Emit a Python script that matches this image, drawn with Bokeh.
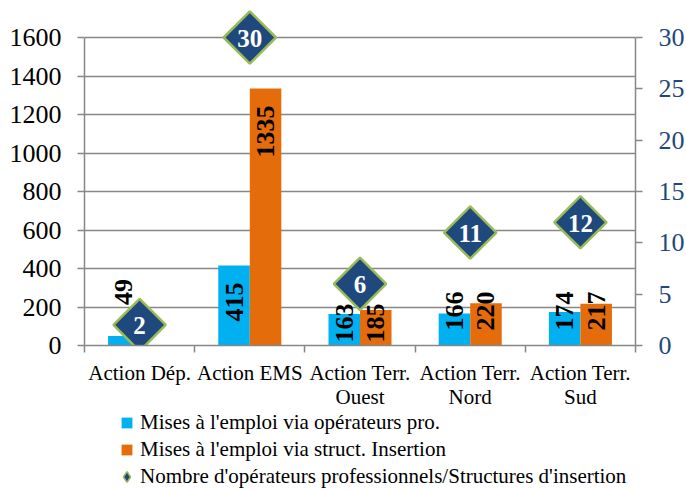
import math
from bokeh.plotting import figure
from bokeh.layouts import column
from bokeh.models import Range1d, LinearAxis, FixedTicker, ColumnDataSource, Legend, LegendItem
from bokeh.embed import file_html
from bokeh.resources import INLINE
from bokeh.core.properties import value

# ---------------- data ----------------
categories = ["Action Dép.", "Action EMS", "Action Terr.\nOuest", "Action Terr.\nNord", "Action Terr.\nSud"]
mises_operateurs = [49, 415, 163, 166, 174]
mises_insertion = [0, 1335, 185, 220, 217]
nombre_structures = [2, 30, 6, 11, 12]
left_ticks = [0, 200, 400, 600, 800, 1000, 1200, 1400, 1600]
right_ticks = [0, 5, 10, 15, 20, 25, 30]
series_names = [
    "Mises à l'emploi via opérateurs pro.",
    "Mises à l'emploi via struct. Insertion",
    "Nombre d'opérateurs professionnels/Structures d'insertion",
]

# ---------------- style ----------------
BLUE = "#00B0F0"
ORANGE = "#E46C0A"
NAVY = "#1F497D"
GREEN = "#9BBB59"
GRAY = "#878787"
FONT = "Times New Roman"

W, H_TOTAL = 686, 490
FRAME_W, FRAME_H = 551, 337
B_LEFT, B_RIGHT, B_TOP, B_BOTTOM = 84, 51, 8, 13
H_MAIN = FRAME_H + B_TOP + B_BOTTOM
H_STRIP = H_TOTAL - H_MAIN
axis_px = 308                           # pixels from 0 to the top tick
left_max, right_max = left_ticks[-1], right_ticks[-1]
y_end = left_max * FRAME_H / axis_px
y2_end = right_max * FRAME_H / axis_px
px_left = axis_px / left_max
px_right = axis_px / right_max

n = len(categories)
centers = [i + 0.5 for i in range(n)]
bar_w = 0.286
x_blue = [c - bar_w / 2 for c in centers]
x_orange = [c + bar_w / 2 for c in centers]
xr = Range1d(0, n)

p = figure(width=W, height=H_MAIN, frame_width=FRAME_W, frame_height=FRAME_H,
           x_range=xr, y_range=Range1d(0, y_end), title=None,
           output_backend="svg", toolbar_location=None,
           min_border_left=B_LEFT, min_border_right=B_RIGHT,
           min_border_top=B_TOP, min_border_bottom=B_BOTTOM)
p.outline_line_color = None
p.background_fill_color = "white"
p.border_fill_color = "white"
p.extra_y_ranges = {"right": Range1d(0, y2_end)}

# x axis: line + boundary ticks (category names are set in the strip below)
xa = p.xaxis[0]
xa.ticker = FixedTicker(ticks=centers, minor_ticks=list(range(n + 1)))
xa.major_label_overrides = {c: "" for c in centers}
xa.major_label_text_font_size = "0px"
xa.major_label_standoff = 0
xa.major_tick_out = 0
xa.major_tick_in = 0
xa.minor_tick_out = 7
xa.minor_tick_in = 0
xa.minor_tick_line_color = GRAY
xa.minor_tick_line_width = 1.5
xa.axis_line_color = GRAY
xa.axis_line_width = 1.5

# left axis
ya = p.yaxis[0]
ya.ticker = FixedTicker(ticks=left_ticks)
ya.major_label_overrides = {t: str(t) for t in left_ticks}
ya.bounds = (0, left_max)
ya.axis_line_color = GRAY
ya.axis_line_width = 1.5
ya.major_tick_line_color = GRAY
ya.major_tick_line_width = 1.5
ya.major_tick_out = 7
ya.major_tick_in = 0
ya.minor_tick_line_color = None
ya.major_label_standoff = 16
ya.major_label_text_font = FONT
ya.major_label_text_font_size = "26px"
ya.major_label_text_color = "black"

# right axis
ra = LinearAxis(y_range_name="right", ticker=FixedTicker(ticks=right_ticks), bounds=(0, right_max))
ra.axis_line_color = GRAY
ra.axis_line_width = 1.5
ra.major_tick_line_color = GRAY
ra.major_tick_line_width = 1.5
ra.major_tick_out = 7
ra.major_tick_in = 0
ra.minor_tick_line_color = None
ra.major_label_standoff = 16
ra.major_label_text_font = FONT
ra.major_label_text_font_size = "26px"
ra.major_label_text_color = NAVY
p.add_layout(ra, "right")

p.xgrid.visible = False
p.ygrid.grid_line_color = GRAY
p.ygrid.grid_line_width = 1.5

# bars
p.vbar(x=x_blue, top=mises_operateurs, width=bar_w, fill_color=BLUE, line_color=None)
p.vbar(x=x_orange, top=mises_insertion, width=bar_w, fill_color=ORANGE, line_color=None)

# bar value labels (rotated)
lab_x, lab_y, lab_t, lab_off, lab_align = [], [], [], [], []
DIAMOND_HALF = 27.5
for i in range(n):
    d_px = nombre_structures[i] * px_right
    for series, xs in ((mises_operateurs, x_blue), (mises_insertion, x_orange)):
        v = series[i]
        if not v:
            continue
        top_px = v * px_left
        if v >= 300:                      # inside end
            lab_x.append(xs[i]); lab_y.append(v); lab_off.append(17); lab_align.append("right")
        elif d_px < top_px + 20:          # diamond sits on the bar: label above it
            lab_x.append(xs[i]); lab_y.append(0); lab_off.append(-(d_px + 20)); lab_align.append("left")
        elif d_px - DIAMOND_HALF < 55:    # diamond close above: push label to base
            lab_x.append(xs[i]); lab_y.append(0); lab_off.append(-3); lab_align.append("left")
        else:
            lab_x.append(xs[i]); lab_y.append(0); lab_off.append(-15); lab_align.append("left")
        lab_t.append(str(v))

for align in ("left", "right"):
    idx = [k for k, a in enumerate(lab_align) if a == align]
    src = ColumnDataSource(dict(x=[lab_x[k] for k in idx], y=[lab_y[k] for k in idx],
                                t=[lab_t[k] for k in idx], off=[lab_off[k] for k in idx]))
    p.text(x="x", y="y", text="t", y_offset="off", source=src, angle=math.pi / 2,
           text_align=align, text_baseline="middle", text_font=value(FONT),
           text_font_style="bold", text_font_size="26px", text_color="black")

# diamonds
p.scatter(x=centers, y=nombre_structures, y_range_name="right", marker="square",
          angle=math.pi / 4, size=37, fill_color=NAVY, line_color=GREEN, line_width=2.5)
p.text(x=centers, y=nombre_structures, text=[str(v) for v in nombre_structures],
       y_range_name="right", text_align="center", text_baseline="middle",
       text_font=value(FONT), text_font_style="bold", text_font_size="25px",
       text_color="white", y_offset=1)

# ---------- strip below: category names + legend ----------
lg = figure(width=W, height=H_STRIP, frame_width=FRAME_W, frame_height=H_STRIP,
            x_range=xr, y_range=Range1d(0, H_STRIP), title=None,
            output_backend="svg", toolbar_location=None,
            x_axis_location=None, y_axis_location=None,
            min_border_left=B_LEFT, min_border_right=B_RIGHT, min_border_top=0, min_border_bottom=0)
lg.grid.visible = False
lg.outline_line_color = None
lg.background_fill_color = "white"
lg.border_fill_color = "white"

CAT_TOP = H_STRIP - 2                   # top of the category names, in strip pixels
lg.text(x=centers, y=[CAT_TOP] * n, text=categories, text_align="center", text_baseline="top",
        text_font=value(FONT), text_font_size="21px", text_line_height=1.03, text_color="black")

nan = float("nan")
r1 = lg.scatter(x=[nan], y=[nan], marker="square", fill_color=BLUE, line_color=None)
r2 = lg.scatter(x=[nan], y=[nan], marker="square", fill_color=ORANGE, line_color=None)
r3 = lg.scatter(x=[nan], y=[nan], marker="diamond", fill_color=NAVY, line_color=GREEN, line_width=1.5)
legend = Legend(items=[LegendItem(label=series_names[0], renderers=[r1]),
                       LegendItem(label=series_names[1], renderers=[r2]),
                       LegendItem(label=series_names[2], renderers=[r3])],
                location=(29, 0), orientation="vertical",
                glyph_width=27, glyph_height=27, spacing=0, padding=0, margin=0,
                label_standoff=0, border_line_color=None, background_fill_alpha=0,
                label_text_font=FONT, label_text_font_size="21px", label_text_color="black")
lg.add_layout(legend)

layout = column(p, lg, spacing=0)
open("out.html", "w").write(file_html(layout, INLINE))
